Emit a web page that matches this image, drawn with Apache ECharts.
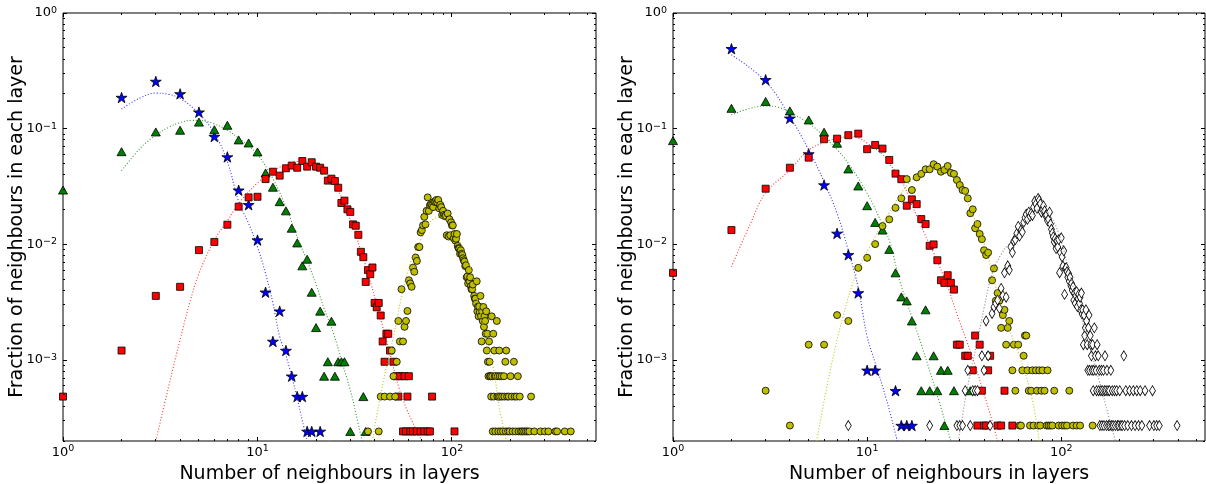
<!DOCTYPE html>
<html><head><meta charset="utf-8">
<script src="https://cdn.jsdelivr.net/npm/echarts@6/dist/echarts.min.js"></script>
<style>html,body{margin:0;padding:0;background:#fff;} #c{width:1206px;height:484px;}</style>
</head><body><div id="c"></div>
<script>
// ---------------- data ----------------
const xTickPowers = [1, 10, 100];
const yTickPowers = [0.001, 0.01, 0.1, 1];

// Left panel
const leftStars = [[2,0.186],[3,0.256],[4,0.200],[5,0.139],[6,0.0855],[7,0.057],[8,0.0294],[9,0.022],[10,0.0109],[11,0.00386],[12,0.00145],[13,0.00265],[14,0.00121],[15,0.000726],[16,0.000484],[17,0.000484],[18,0.000242],[19,0.000242],[21,0.000242]];
const leftTriangles = [[1,0.0295],[2,0.0633],[3,0.0938],[4,0.097],[5,0.114],[6,0.098],[7,0.107],[8,0.080],[9,0.0753],[10,0.063],[11,0.0414],[12,0.0312],[13,0.0234],[14,0.0195],[15,0.0138],[16,0.0103],[17,0.00653],[18,0.00745],[19,0.00386],[20,0.00191],[21,0.00265],[22,0.000726],[23,0.000968],[24,0.00217],[25,0.000726],[26,0.000968],[27,0.000968],[28,0.000968],[30,0.000242],[35,0.000484],[36,0.000242]];
const leftSquares = [[1,0.000484],[2,0.00121],[3,0.00359],[4,0.0043],[5,0.00893],[6,0.0105],[7,0.0148],[8,0.0212],[9,0.0255],[10,0.0258],[11,0.0367],[12,0.0425],[13,0.0393],[14,0.0455],[15,0.048],[16,0.046],[17,0.0526],[18,0.047],[19,0.0513],[20,0.047],[21,0.046],[22,0.0434],[23,0.0356],[24,0.037],[25,0.0353],[26,0.0309],[27,0.0228],[28,0.0239],[29,0.0201],[30,0.0191],[31,0.0149],[32,0.0145],[33,0.0121],[34,0.00863],[35,0.00776],[36,0.00474],[37,0.0060],[38,0.00553],[39,0.00632],[40,0.00312],[41,0.00286],[42,0.00312],[43,0.00243],[44,0.00145],[45,0.000968],[46,0.00169],[47,0.00169],[48,0.00121],[50,0.000968],[52,0.000726],[53,0.000484],[54,0.000726],[56,0.000242],[57,0.000726],[58,0.000242],[59,0.000484],[60,0.000726],[61,0.000242],[63,0.000242],[66,0.000242],[69,0.000242],[72,0.000242],[75,0.000242],[77,0.000242],[79,0.000484],[103,0.000242]];
const leftCircles = [[37,0.000242],[42,0.000242],[43,0.000484],[45,0.000484],[48,0.000484],[49,0.00121],[50,0.000726],[51,0.000484],[52,0.000968],[53,0.00218],[54,0.00145],[55,0.0041],[56,0.00145],[57,0.00194],[58,0.00218],[59,0.00266],[60,0.0049],[61,0.0046],[62,0.0043],[63,0.0063],[64,0.0058],[65,0.0077],[66,0.0072],[67,0.0095],[68,0.0095],[69,0.0127],[70,0.0133],[71,0.0146],[72,0.0173],[73,0.0149],[74,0.0195],[75,0.0255],[76,0.0195],[77,0.0218],[78,0.0222],[79,0.0218],[80,0.021],[81,0.0234],[82,0.0234],[83,0.0242],[84,0.0231],[85,0.0242],[86,0.0205],[87,0.022],[88,0.021],[89,0.018],[90,0.0195],[91,0.018],[92,0.0175],[93,0.0178],[94,0.012],[95,0.0185],[96,0.0117],[97,0.0165],[98,0.012],[99,0.0155],[100,0.0146],[101,0.0146],[102,0.0113],[103,0.0123],[104,0.0108],[105,0.0112],[106,0.0123],[107,0.0097],[108,0.0093],[109,0.0092],[110,0.0083],[111,0.0089],[112,0.0083],[113,0.0081],[114,0.0076],[115,0.0073],[116,0.0071],[117,0.0065],[118,0.0066],[119,0.0052],[120,0.0053],[121,0.0046],[122,0.0060],[123,0.0048],[124,0.0052],[125,0.00435],[126,0.0041],[127,0.0041],[128,0.0045],[130,0.00359],[131,0.0034],[132,0.0034],[133,0.00308],[134,0.0048],[135,0.00264],[136,0.0029],[137,0.00239],[138,0.0029],[139,0.0026],[140,0.00359],[141,0.0024],[142,0.00145],[143,0.00264],[144,0.00218],[145,0.00288],[146,0.00194],[147,0.0024],[148,0.00218],[149,0.00169],[150,0.00264],[151,0.00121],[152,0.00169],[153,0.000968],[154,0.000726],[155,0.00145],[156,0.000968],[157,0.000726],[158,0.000726],[159,0.000484],[160,0.00239],[161,0.000726],[162,0.000242],[163,0.00169],[164,0.000484],[165,0.00121],[166,0.000726],[167,0.000242],[168,0.000726],[170,0.00218],[171,0.000484],[172,0.000726],[173,0.000242],[174,0.000484],[175,0.00121],[176,0.000726],[177,0.000484],[178,0.000242],[180,0.000726],[181,0.000484],[183,0.000242],[185,0.000726],[186,0.000484],[188,0.000968],[189,0.000242],[190,0.00121],[192,0.000484],[194,0.000242],[196,0.000484],[198,0.000242],[200,0.000726],[203,0.000484],[205,0.000242],[208,0.000968],[210,0.000484],[212,0.000242],[215,0.000484],[218,0.000726],[220,0.000242],[223,0.000484],[226,0.000242],[230,0.000242],[235,0.000242],[240,0.000242],[245,0.000242],[250,0.000242],[255,0.000484],[265,0.000242],[285,0.000242],[300,0.000242],[313,0.000242],[340,0.000242],[347,0.000242],[380,0.000242],[408,0.000242]];
const leftFitBlue = [[2,0.148],[2.5,0.185],[3,0.203],[3.5,0.198],[4,0.183],[5,0.135],[6,0.0914],[7,0.052],[8,0.0235],[9,0.0152],[10,0.0095],[11,0.0056],[12,0.0031],[13,0.0016],[14,0.0011],[15,0.00072],[16,0.00047],[17,0.0003],[18,0.0002]];
const leftFitGreen = [[2,0.0434],[2.5,0.068],[3,0.088],[3.5,0.103],[4,0.113],[4.6,0.118],[5,0.118],[6,0.11],[7,0.097],[8,0.083],[9,0.071],[10,0.06],[12,0.037],[14,0.021],[16.5,0.0102],[18,0.0072],[20,0.0045],[22,0.0028],[24.6,0.0017],[27,0.001],[30,0.00055],[32,0.00035],[34.5,0.0002]];
const leftFitRed = [[3,0.0002],[3.5,0.0006],[4,0.0015],[4.5,0.0032],[5,0.0056],[6,0.0109],[7,0.016],[8,0.0225],[10,0.034],[12,0.043],[14,0.049],[16,0.052],[18,0.052],[20,0.049],[22,0.043],[25,0.033],[28,0.022],[32,0.012],[37,0.0056],[42,0.0026],[48,0.00114],[53,0.0006],[58,0.00039],[64,0.00027],[70,0.0002]];
const leftFitYellow = [[39,0.0002],[41,0.00033],[44.5,0.00067],[50,0.00159],[55,0.0035],[61,0.0068],[69,0.0109],[74,0.0142],[80,0.0165],[86,0.0172],[93,0.0165],[100,0.0145],[110,0.0105],[118,0.0078],[125,0.0062],[134,0.0036],[145,0.0019],[155,0.0012],[163,0.00087],[175,0.00039],[183,0.00027],[190,0.0002]];

// Right panel
const rightStars = [[2,0.491],[3,0.265],[4,0.123],[5,0.0605],[6,0.0326],[7,0.01245],[8,0.00813],[9,0.00381],[10,0.000816],[11,0.000816],[14,0.000544],[15,0.000272],[16,0.000272],[17,0.000272]];
const rightTriangles = [[1,0.0789],[2,0.150],[3,0.172],[4,0.1426],[5,0.119],[6,0.0933],[7,0.0749],[8,0.0449],[9,0.032],[10,0.0216],[11,0.0155],[12,0.0133],[13,0.00906],[14,0.00568],[15,0.00352],[16,0.00325],[17,0.00218],[18,0.00109],[19,0.000544],[20,0.00272],[21,0.000544],[22,0.00109],[23,0.000544],[24,0.000816],[25,0.000272],[26,0.000816],[28,0.000544],[34,0.000544]];
const rightSquares = [[1,0.00568],[2,0.0133],[3,0.0303],[4,0.046],[5,0.0562],[6,0.0811],[7,0.082],[8,0.0879],[9,0.0907],[10,0.0665],[11,0.0724],[12,0.0673],[13,0.0537],[14,0.0409],[15,0.0366],[16,0.0216],[17,0.0245],[18,0.0223],[19,0.01656],[20,0.015],[21,0.00973],[22,0.010],[23,0.0073],[24,0.0049],[25,0.00465],[26,0.00542],[27,0.00465],[28,0.00407],[29,0.00136],[30,0.00136],[32,0.00109],[33,0.00109],[35,0.000816],[36,0.00163],[37,0.000272],[38,0.00136],[39,0.000544],[40,0.000272],[41,0.000272],[42,0.000816],[43,0.00109],[47,0.000272],[49,0.000272],[51,0.000544],[56,0.000272]];
const rightCircles = [[3,0.000544],[4,0.000272],[5,0.00136],[6,0.00136],[7,0.00245],[8,0.00218],[9,0.00627],[10,0.00766],[11,0.01006],[12,0.0144],[13,0.01645],[14,0.0207],[15,0.025],[16,0.0367],[17,0.0295],[18,0.038],[19,0.0407],[20,0.0446],[21,0.0446],[22,0.0493],[23,0.047],[24,0.0425],[25,0.044],[26,0.0476],[27,0.0415],[28,0.0407],[29,0.036],[30,0.0326],[31,0.0295],[32,0.029],[33,0.025],[34,0.0186],[35,0.0201],[36,0.0138],[37,0.015],[38,0.0123],[39,0.0111],[40,0.0089],[41,0.0081],[42,0.0085],[44,0.0049],[45,0.0062],[46,0.00326],[47,0.0038],[48,0.00326],[49,0.0019],[50,0.00245],[51,0.00272],[52,0.00136],[53,0.0019],[54,0.00218],[56,0.000816],[57,0.00136],[58,0.000544],[60,0.00136],[61,0.000272],[62,0.000272],[63,0.000816],[64,0.00109],[65,0.00163],[66,0.00163],[67,0.000816],[68,0.000544],[69,0.000272],[70,0.000544],[71,0.000816],[72,0.000272],[74,0.000816],[75,0.000544],[76,0.000272],[77,0.000816],[78,0.000272],[79,0.000544],[80,0.000816],[82,0.000544],[84,0.000272],[85,0.000816],[86,0.000272],[88,0.000272],[90,0.000272],[92,0.000544],[97,0.000272],[101,0.000272],[104,0.000272],[107,0.000272],[110,0.000544],[115,0.000272],[120,0.000272],[125,0.000272],[145,0.000272]];
const rightDiamonds = [[8,0.000272],[21,0.000272],[29,0.000272],[30,0.000272],[31,0.000272],[32,0.000544],[33,0.000816],[34,0.000272],[35,0.000544],[36,0.000544],[37,0.000544],[39,0.00109],[40,0.000816],[41,0.00218],[42,0.00109],[43,0.000272],[44,0.00253],[45,0.00288],[46,0.0031],[47,0.0033],[48,0.0028],[49,0.00416],[50,0.0036],[51,0.00568],[52,0.0035],[53,0.00653],[54,0.0060],[55,0.0095],[56,0.0085],[57,0.0107],[58,0.011],[59,0.01245],[60,0.0143],[61,0.0118],[62,0.0133],[63,0.0128],[64,0.0155],[65,0.017],[66,0.0182],[67,0.0165],[68,0.019],[69,0.0175],[70,0.0185],[71,0.0178],[72,0.021],[73,0.0236],[74,0.0224],[75,0.0205],[76,0.025],[77,0.024],[78,0.0224],[79,0.019],[80,0.020],[81,0.0215],[82,0.0195],[83,0.0178],[84,0.018],[85,0.016],[86,0.0165],[87,0.019],[88,0.015],[89,0.0135],[90,0.0125],[91,0.0116],[92,0.0105],[93,0.0112],[94,0.0092],[95,0.0108],[96,0.0095],[97,0.011],[98,0.0057],[99,0.0085],[100,0.0114],[101,0.0078],[102,0.0065],[103,0.0088],[104,0.0037],[105,0.0062],[106,0.0063],[107,0.0058],[108,0.0052],[109,0.0056],[110,0.0048],[111,0.0052],[112,0.0044],[113,0.0046],[114,0.0040],[115,0.0043],[116,0.0033],[117,0.0038],[118,0.0031],[119,0.0036],[120,0.0039],[121,0.0029],[122,0.0034],[123,0.0037],[124,0.0031],[125,0.0035],[126,0.0027],[127,0.0038],[128,0.0025],[129,0.00272],[130,0.00136],[131,0.00245],[132,0.00163],[133,0.0019],[134,0.00272],[135,0.00218],[136,0.00136],[137,0.000816],[138,0.0019],[139,0.00245],[140,0.000816],[141,0.00163],[142,0.00136],[143,0.00109],[144,0.000816],[145,0.00136],[146,0.000544],[147,0.000816],[148,0.0019],[150,0.00109],[151,0.000816],[152,0.000544],[153,0.00136],[155,0.00109],[156,0.000544],[157,0.000816],[158,0.000272],[160,0.000544],[161,0.000816],[162,0.000272],[163,0.000544],[165,0.000816],[166,0.000272],[167,0.000544],[168,0.00109],[170,0.000544],[171,0.000272],[172,0.000816],[174,0.000544],[175,0.000272],[177,0.000544],[178,0.000272],[180,0.000816],[182,0.000272],[183,0.000544],[185,0.000272],[188,0.000544],[190,0.000272],[193,0.000544],[195,0.000272],[198,0.000272],[200,0.000544],[203,0.000272],[206,0.000272],[210,0.00109],[212,0.000272],[215,0.000544],[220,0.000272],[225,0.000544],[230,0.000272],[235,0.000544],[240,0.000272],[245,0.000544],[250,0.000272],[255,0.000544],[260,0.000272],[270,0.000544],[285,0.000272],[295,0.000544],[300,0.000272],[310,0.000272],[320,0.000272],[395,0.000272]];
const rightFitBlue = [[2,0.435],[3,0.256],[4,0.127],[5,0.0655],[6,0.0348],[7,0.0185],[8,0.0089],[9,0.0042],[10,0.0016],[11,0.00095],[12.6,0.00045],[14.3,0.0002]];
const rightFitGreen = [[2,0.132],[2.5,0.15],[3,0.157],[3.5,0.153],[4,0.138],[5,0.1116],[6,0.0855],[7,0.066],[8,0.0503],[10,0.0277],[12,0.0148],[13,0.0109],[14.8,0.0047],[18,0.0018],[22,0.00063],[27,0.0002]];
const rightFitRed = [[2,0.0064],[2.5,0.015],[3,0.0278],[4,0.044],[5,0.0655],[6,0.076],[7,0.083],[8,0.085],[9,0.083],[10,0.075],[12,0.06],[13,0.05],[15,0.036],[17,0.022],[19.7,0.0125],[22,0.0085],[26,0.0043],[29,0.0025],[32.5,0.00148],[36,0.0009],[40,0.00051],[44,0.0003],[47,0.0002]];
const rightFitYellow = [[5.5,0.0002],[6.4,0.00076],[7.5,0.00236],[8.8,0.0056],[10.3,0.0095],[12.6,0.0173],[16.2,0.033],[19,0.042],[22,0.047],[25,0.046],[30,0.0315],[35,0.018],[39.5,0.0109],[44,0.0058],[48,0.0033],[55,0.0017],[62,0.001],[71,0.00045],[77,0.0002]];
const rightFitDiamond = [[29.5,0.0002],[33,0.0006],[37,0.00148],[40,0.0028],[44,0.0056],[49,0.0082],[54,0.0102],[64,0.0145],[70,0.0175],[77,0.02],[85,0.019],[97,0.0125],[108,0.0065],[120,0.0033],[135,0.0016],[150,0.00087],[170,0.0004],[190,0.0002]];

// ---------------- chart ----------------
const FONT = 'DejaVu Sans';
const STAR = 'path://M100,0 L122.45,69.1 L195.11,69.1 L136.33,111.8 L158.78,180.9 L100,138.2 L41.22,180.9 L63.67,111.8 L4.89,69.1 L77.55,69.1 Z';
const X_MIN = 1, X_MAX = 550, Y_MIN = 0.0002, Y_MAX = 1;

function powFmt(v) {
  const l = Math.log10(v);
  const e = Math.round(l);
  if (Math.abs(l - e) > 1e-6) return '';
  return '{b|10}{s|' + (e < 0 ? '\u2212' + (-e) : String(e)) + '}';
}
const xRich = {
  b: {fontSize: 13, lineHeight: 15, padding: [3,0,0,0], verticalAlign: 'bottom', color: '#000', fontFamily: FONT},
  s: {fontSize: 9.5, lineHeight: 11, verticalAlign: 'top', color: '#000', fontFamily: FONT}
};
const yRich = {
  b: {fontSize: 13, lineHeight: 15, padding: [3,0,3,0], color: '#000', fontFamily: FONT},
  s: {fontSize: 9.5, lineHeight: 11, verticalAlign: 'top', color: '#000', fontFamily: FONT}
};

// tick marks (major at powers of ten, minor at 2..9 x powers)
const tickData = [];
for (let d = 1; d <= 100; d *= 10) for (let m = 1; m <= 9; m++) {
  const v = m * d; if (v >= X_MIN && v <= X_MAX) tickData.push([v, 0.01, m === 1 ? 1 : 0, 0]);
}
for (let d = 0.0001; d <= 1.0001; d *= 10) for (let m = 1; m <= 9; m++) {
  const v = m * d; if (v >= Y_MIN * 0.999 && v <= Y_MAX * 1.001) tickData.push([10, v, m === 1 ? 1 : 0, 1]);
}

function tickSeries(gi) {
  return {
    type: 'custom', xAxisIndex: gi, yAxisIndex: gi, coordinateSystem: 'cartesian2d',
    silent: true, z: 10, clip: false, data: tickData, encode: {x: 0, y: 1},
    renderItem: function (params, api) {
      const cs = params.coordSys;
      const p = api.coord([api.value(0), api.value(1)]);
      const len = api.value(2) ? 4 : 2;
      const st = {stroke: '#000', lineWidth: 1};
      if (api.value(3) === 0) {
        const x = Math.round(p[0] - 0.5) + 0.5;
        const yb = cs.y + cs.height, yt = cs.y;
        return {type: 'group', children: [
          {type: 'line', shape: {x1: x, y1: yb, x2: x, y2: yb - len}, style: st},
          {type: 'line', shape: {x1: x, y1: yt, x2: x, y2: yt + len}, style: st}
        ]};
      } else {
        const y = Math.round(p[1] - 0.5) + 0.5;
        const xl = cs.x, xr = cs.x + cs.width;
        return {type: 'group', children: [
          {type: 'line', shape: {x1: xl, y1: y, x2: xl + len, y2: y}, style: st},
          {type: 'line', shape: {x1: xr, y1: y, x2: xr - len, y2: y}, style: st}
        ]};
      }
    }
  };
}

function xAxis(gi) {
  return {
    type: 'log', logBase: 10, gridIndex: gi, min: X_MIN, max: X_MAX,
    axisLine: {show: false}, axisTick: {show: false}, splitLine: {show: false}, minorTick: {show: false},
    axisLabel: {formatter: powFmt, margin: 3, rich: xRich, color: '#000', fontFamily: FONT, showMinLabel: true, showMaxLabel: true},
    name: 'Number of neighbours in layers', nameLocation: 'middle', nameGap: 24, nameMoveOverlap: false,
    nameTextStyle: {fontSize: 19, color: '#000', fontFamily: FONT}
  };
}
function yAxis(gi) {
  return {
    type: 'log', logBase: 10, gridIndex: gi, min: Y_MIN, max: Y_MAX,
    axisLine: {show: false}, axisTick: {show: false}, splitLine: {show: false}, minorTick: {show: false},
    axisLabel: {formatter: powFmt, margin: 6, rich: yRich, color: '#000', fontFamily: FONT, showMinLabel: true, showMaxLabel: true},
    name: 'Fraction of neighbours in each layer', nameLocation: 'middle', nameGap: 36, nameMoveOverlap: false,
    nameTextStyle: {fontSize: 19, color: '#000', fontFamily: FONT}
  };
}

function scatter(gi, data, symbol, size, color) {
  return {type: 'scatter', xAxisIndex: gi, yAxisIndex: gi, data: data, symbol: symbol, symbolSize: size,
    symbolKeepAspect: true, z: 2, silent: true,
    itemStyle: {color: color, borderColor: '#000', borderWidth: 0.8, opacity: 1}};
}
function fit(gi, data, color, op) {
  return {type: 'line', xAxisIndex: gi, yAxisIndex: gi, data: data, smooth: 0.4, showSymbol: false, symbol: 'none',
    z: 3, silent: true, lineStyle: {color: color, width: 1.1, type: [1, 2], opacity: op}};
}

const BLUE = '#0000ff', GREEN = '#008000', RED = '#ff0000', YEL = '#bfbf00';
const gridBase = {top: 13, height: 428, show: true, borderColor: '#000', borderWidth: 1, backgroundColor: '#fff', containLabel: false, outerBoundsMode: 'none'};

const option = {
  animation: false,
  backgroundColor: '#fff',
  textStyle: {fontFamily: FONT},
  grid: [Object.assign({left: 63, width: 533}, gridBase), Object.assign({left: 673, width: 532}, gridBase)],
  xAxis: [xAxis(0), xAxis(1)],
  yAxis: [yAxis(0), yAxis(1)],
  series: [
    scatter(0, leftStars, STAR, 11, BLUE),
    scatter(0, leftTriangles, 'triangle', [9, 8], GREEN),
    scatter(0, leftSquares, 'rect', 7, RED),
    scatter(0, leftCircles, 'circle', 7, YEL),
    fit(0, leftFitBlue, BLUE, 0.8),
    fit(0, leftFitGreen, GREEN, 0.8),
    fit(0, leftFitRed, RED, 0.8),
    fit(0, leftFitYellow, YEL, 0.9),
    scatter(1, rightStars, STAR, 11, BLUE),
    scatter(1, rightTriangles, 'triangle', [9, 8], GREEN),
    scatter(1, rightSquares, 'rect', 7, RED),
    scatter(1, rightCircles, 'circle', 7, YEL),
    scatter(1, rightDiamonds, 'diamond', [6, 10], '#ffffff'),
    fit(1, rightFitBlue, BLUE, 0.8),
    fit(1, rightFitGreen, GREEN, 0.8),
    fit(1, rightFitRed, RED, 0.8),
    fit(1, rightFitYellow, YEL, 0.9),
    fit(1, rightFitDiamond, '#555555', 0.7),
    tickSeries(0),
    tickSeries(1)
  ]
};
const chart = echarts.init(document.getElementById('c'), null, {renderer: 'canvas'});
chart.setOption(option);
</script></body></html>
